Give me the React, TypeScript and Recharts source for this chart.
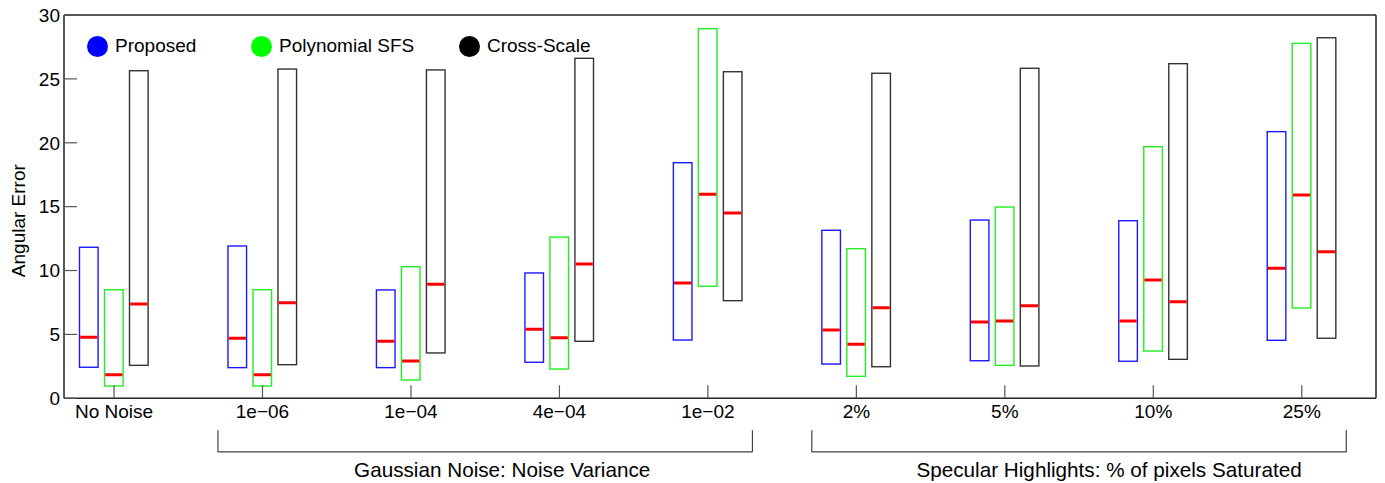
import React from 'react'
import { Bar, ComposedChart, Legend, ReferenceLine, XAxis, YAxis } from 'recharts'

// Angular error ranges (box = low..high, red bar = median) per test condition.
const categories = ['No Noise', '1e\u221206', '1e\u221204', '4e\u221204', '1e\u221202', '2%', '5%', '10%', '25%']

const proposedLow = [2.43, 2.4, 2.4, 2.82, 4.56, 2.68, 2.94, 2.9, 4.54]
const proposedMed = [4.77, 4.7, 4.46, 5.4, 9.02, 5.35, 5.97, 6.05, 10.17]
const proposedHigh = [11.82, 11.92, 8.48, 9.81, 18.44, 13.15, 13.95, 13.9, 20.87]

const polyLow = [0.96, 0.96, 1.43, 2.29, 8.77, 1.72, 2.58, 3.7, 7.07]
const polyMed = [1.85, 1.85, 2.92, 4.74, 15.97, 4.23, 6.05, 9.26, 15.91]
const polyHigh = [8.5, 8.5, 10.3, 12.62, 28.93, 11.71, 14.97, 19.69, 27.78]

const crossLow = [2.58, 2.63, 3.55, 4.46, 7.64, 2.47, 2.53, 3.05, 4.7]
const crossMed = [7.38, 7.48, 8.92, 10.51, 14.5, 7.09, 7.25, 7.56, 11.47]
const crossHigh = [25.64, 25.77, 25.7, 26.61, 25.56, 25.44, 25.83, 26.19, 28.22]

const yTicks = [0, 5, 10, 15, 20, 25, 30]

// groups of categories (1-based positions) that get a bracket + caption underneath
const groupNames = ['Gaussian Noise: Noise Variance', 'Specular Highlights: % of pixels Saturated']
const groupFrom = [2, 6]
const groupTo = [5, 9]

const SERIES = [
  { key: 'prop', name: 'Proposed', dot: '#0000ff', stroke: '#1a1aff', low: proposedLow, med: proposedMed, high: proposedHigh },
  { key: 'poly', name: 'Polynomial SFS', dot: '#00ff00', stroke: '#22ee22', low: polyLow, med: polyMed, high: polyHigh },
  { key: 'cross', name: 'Cross-Scale', dot: '#000000', stroke: '#333333', low: crossLow, med: crossMed, high: crossHigh },
]

// layout / style
const X_MIN = 0.663
const X_MAX = 9.5
const BRACKET_PAD = 0.3
const BRACKET_TOP = -2.5 // below the axis, in y data units
const BRACKET_BOTTOM = -4.2
const CAPTION_DX = [17, 30]
const LEGEND_ITEM_W = [164, 208, 140]
const FONT = 19
const AXIS_COLOR = '#222'
const TICK_COLOR = '#555'

const rows = categories.map((label, i) => {
  const row: Record<string, number | string> = { x: i + 1, label }
  for (const s of SERIES) {
    row[`${s.key}Low`] = s.low[i]
    row[`${s.key}Med`] = s.med[i]
    row[`${s.key}High`] = s.high[i]
  }
  return row
})

function BoxShape(props: any) {
  const { x, y, width, height, payload, seriesKey, stroke } = props
  const low = payload[`${seriesKey}Low`]
  const med = payload[`${seriesKey}Med`]
  const high = payload[`${seriesKey}High`]
  const top = Math.min(y, y + height)
  const h = Math.abs(height)
  // median sits on the same linear scale as the box ends
  const medY = top + (h * (high - med)) / (high - low)
  return (
    <g>
      <rect x={x + 0.7} y={top} width={width - 1.4} height={h} fill="none" stroke={stroke} strokeWidth={1.4} />
      <line x1={x + 1.4} x2={x + width - 1.4} y1={medY} y2={medY} stroke="#ff0000" strokeWidth={3} />
    </g>
  )
}

function LegendContent() {
  return (
    <div style={{ display: 'flex', alignItems: 'center' }}>
      {SERIES.map((s, i) => (
        <div key={s.key} style={{ display: 'flex', alignItems: 'center', width: LEGEND_ITEM_W[i] }}>
          <span
            style={{ display: 'inline-block', width: 21, height: 21, borderRadius: '50%', background: s.dot, marginRight: 7 }}
          />
          <span style={{ fontSize: FONT, color: '#000', whiteSpace: 'nowrap' }}>{s.name}</span>
        </div>
      ))}
    </div>
  )
}

export default function App() {
  return (
    <div style={{ width: 1377, height: 475, fontFamily: '"Liberation Sans", Arial, Helvetica, sans-serif' }}>
      {/* the "30" tick label pokes a few px above the svg top */}
      <style>{'.recharts-surface { overflow: visible; }'}</style>
      <ComposedChart
        width={1377}
        height={475}
        data={rows}
        margin={{ top: 6, right: 8, bottom: 54.7, left: 0 }}
        barGap={5}
      >
        <XAxis
          xAxisId="b"
          type="number"
          dataKey="x"
          domain={[X_MIN, X_MAX]}
          allowDataOverflow
          ticks={rows.map((r) => r.x as number)}
          interval={0}
          tickFormatter={(v: number) => categories[v - 1] ?? ''}
          height={30}
          tickSize={-13}
          tickMargin={19}
          axisLine={{ stroke: AXIS_COLOR, strokeWidth: 1.5 }}
          tickLine={{ stroke: TICK_COLOR, strokeWidth: 1.2 }}
          tick={{ fill: '#000', fontSize: FONT }}
        />
        <XAxis
          xAxisId="t"
          orientation="top"
          type="number"
          domain={[X_MIN, X_MAX]}
          allowDataOverflow
          ticks={rows.map((r) => r.x as number)}
          interval={0}
          height={1}
          tickSize={-13}
          tick={false}
          axisLine={{ stroke: AXIS_COLOR, strokeWidth: 1.5 }}
          tickLine={{ stroke: TICK_COLOR, strokeWidth: 1.2 }}
        />
        <YAxis
          yAxisId="l"
          type="number"
          domain={[0, 30]}
          allowDataOverflow
          ticks={yTicks}
          interval={0}
          width={56}
          tickSize={-13}
          tickMargin={17}
          axisLine={{ stroke: AXIS_COLOR, strokeWidth: 1.5 }}
          tickLine={{ stroke: TICK_COLOR, strokeWidth: 1.2 }}
          tick={{ fill: '#000', fontSize: FONT }}
          label={{ value: 'Angular Error', angle: -90, position: 'center', dx: -18, dy: 14, fontSize: FONT, fill: '#000' }}
        />
        <YAxis
          yAxisId="r"
          orientation="right"
          type="number"
          domain={[0, 30]}
          allowDataOverflow
          ticks={yTicks}
          interval={0}
          width={1}
          tickSize={-13}
          tick={false}
          axisLine={{ stroke: AXIS_COLOR, strokeWidth: 1.5 }}
          tickLine={{ stroke: TICK_COLOR, strokeWidth: 1.2 }}
        />
        <Legend
          layout="horizontal"
          verticalAlign="middle"
          align="center"
          wrapperStyle={{ top: 27, left: 79, width: 'auto' }}
          content={() => <LegendContent />}
        />
        {SERIES.map((s) => (
          <Bar
            key={s.key}
            xAxisId="b"
            yAxisId="l"
            name={s.name}
            dataKey={(d: any) => [d[`${s.key}Low`], d[`${s.key}High`]]}
            fill={s.dot}
            barSize={20}
            isAnimationActive={false}
            shape={(p: any) => <BoxShape {...p} seriesKey={s.key} stroke={s.stroke} />}
          />
        ))}
        {groupNames.map((name, i) => {
          const x0 = groupFrom[i] - BRACKET_PAD
          const x1 = groupTo[i] + BRACKET_PAD
          return (
            <React.Fragment key={name}>
              <ReferenceLine
                xAxisId="b"
                yAxisId="l"
                ifOverflow="visible"
                segment={[{ x: x0, y: BRACKET_TOP }, { x: x0, y: BRACKET_BOTTOM }]}
                stroke="#444"
                strokeWidth={1.2}
              />
              <ReferenceLine
                xAxisId="b"
                yAxisId="l"
                ifOverflow="visible"
                segment={[{ x: x1, y: BRACKET_TOP }, { x: x1, y: BRACKET_BOTTOM }]}
                stroke="#444"
                strokeWidth={1.2}
              />
              <ReferenceLine
                xAxisId="b"
                yAxisId="l"
                ifOverflow="visible"
                segment={[{ x: x0, y: BRACKET_BOTTOM }, { x: x1, y: BRACKET_BOTTOM }]}
                stroke="#444"
                strokeWidth={1.2}
                label={{ value: name, position: 'bottom', offset: 10, dx: CAPTION_DX[i], fontSize: 20.7, fill: '#000' }}
              />
            </React.Fragment>
          )
        })}
      </ComposedChart>
    </div>
  )
}
